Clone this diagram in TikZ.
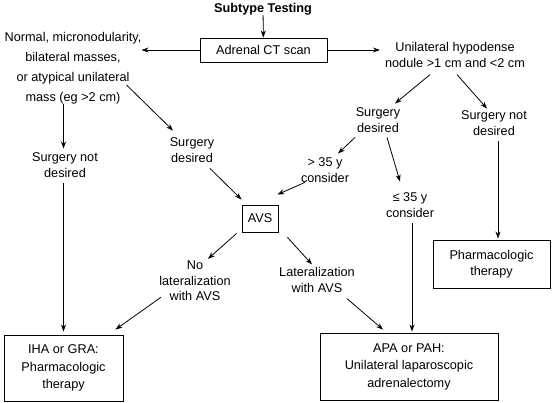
\documentclass[tikz,border=0pt]{standalone}
\usepackage{fontspec}
\setmainfont{Liberation Sans}
\usetikzlibrary{arrows.meta, positioning, calc}

\begin{document}
\begin{tikzpicture}[x=1pt, y=-1pt,
    every node/.style={font=\fontsize{12.7}{15.5}\selectfont, align=center, inner sep=0pt},
    box/.style={draw, line width=0.9pt},
    arr/.style={-{Stealth[length=7pt, width=5pt]}, line width=0.8pt}]
    \useasboundingbox (0,0) rectangle (553,402);
    % top row
    \node[font=\fontsize{12.7}{15.5}\selectfont\bfseries] (title) at (263,9) {Subtype Testing};
    \node[box, minimum width=127pt, minimum height=24pt] (ct) at (263.5,50) {Adrenal CT scan};
    \node[font=\fontsize{12.7}{20}\selectfont] (leftfind) at (73,68) {Normal, micronodularity,\\ bilateral masses,\\ or atypical unilateral\\ mass (eg >2 cm)};
    \node (rightfind) at (455,55) {Unilateral hypodense\\ nodule >1 cm and <2 cm};
    % middle
    \node (sdR) at (378,120) {Surgery\\ desired};
    \node (snR) at (494,123) {Surgery not\\ desired};
    \node (old) at (325,170) {> 35 y\\ consider};
    \node (young) at (410,205) {≤ 35 y\\ consider};
    \node (sdL) at (192,150) {Surgery\\ desired};
    \node (snL) at (65,165) {Surgery not\\ desired};
    \node[box, minimum width=36pt, minimum height=27pt] (avs) at (260,218.5) {AVS};
    \node (nolat) at (195,281) {No\\ lateralization\\ with AVS};
    \node (lat) at (317,280) {Lateralization\\ with AVS};
    % bottom boxes
    \node[box, font=\fontsize{12.7}{17.5}\selectfont, minimum width=119pt, minimum height=66pt] (iha) at (63.5,368) {IHA or GRA:\\ Pharmacologic\\ therapy};
    \node[box, font=\fontsize{12.7}{16}\selectfont, minimum width=117pt, minimum height=48pt] (pharm) at (491.5,264) {Pharmacologic\\ therapy};
    \node[box, font=\fontsize{12.7}{17.5}\selectfont, minimum width=178pt, minimum height=67pt] (apa) at (409,366.5) {APA or PAH:\\ Unilateral laparoscopic\\ adrenalectomy};

    \draw[arr] (title) -- (ct);
    \draw[arr] (ct) -- (leftfind.east |- ct);
    \draw[arr, shorten >=5pt] (ct) -- (rightfind.west |- ct);
    \draw[arr] ($(rightfind.south)+(-25,7)$) -- ($(sdR.north)+(17,-4)$);
    \draw[arr] ($(rightfind.south)+(2,7)$) -- ($(snR.north)+(-7,-2)$);
    \draw[arr] ($(sdR.south)+(-23,5)$) -- ($(old.north)+(13,-4)$);
    \draw[arr] ($(old.south west)+(4,0)$) -- ($(avs.north east)+(-1,-10)$);
    \draw[arr] ($(sdR.south)+(9,5)$) -- ($(young.north)+(-10,-11)$);
    \draw[arr, shorten >=1pt] ($(young.south)+(2,6)$) -- ($(young.south |- apa.north)+(2,0)$);
    \draw[arr, shorten >=1pt] ($(snR.south)+(4,6)$) -- ($(snR.south |- pharm.north)+(4,0)$);
    \draw[arr] ($(leftfind.east)+(-15,17)$) -- ($(sdL.north)+(-19,-7)$);
    \draw[arr] (iha.north |- leftfind.south) -- ($(iha.north |- snL.north)+(0,-4)$);
    \draw[arr, shorten >=3pt] ($(iha.north |- snL.south)+(0,6)$) -- (iha.north);
    \draw[arr] ($(sdL.south)+(18,6)$) -- ($(avs.north west)+(0,-5)$);
    \draw[arr] ($(avs.south west)+(-5,1)$) -- ($(nolat.north)+(13,-2)$);
    \draw[arr] ($(nolat.south west)+(2,-4)$) -- ($(iha.north east)+(-8,-5)$);
    \draw[arr] ($(avs.south east)+(9,5)$) -- ($(lat.north)+(-5,-3)$);
    \draw[arr] ($(lat.south)+(30,6)$) -- ($(apa.north)+(-26,-3)$);
\end{tikzpicture}
\end{document}
